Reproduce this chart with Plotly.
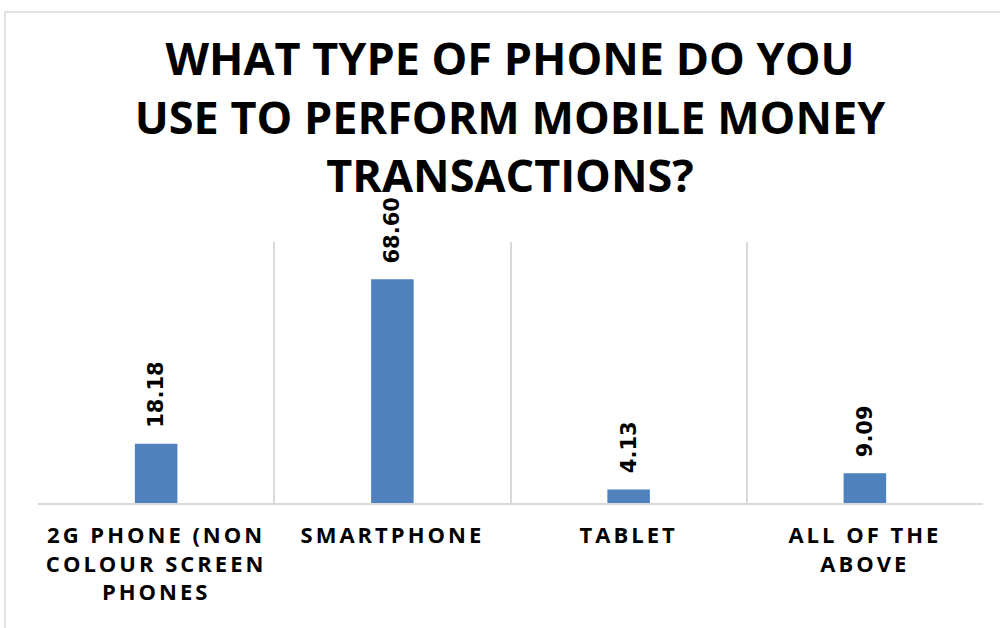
import plotly.graph_objects as go

# Survey results: type of phone used for mobile money transactions (%)
categories = [
    "2G PHONE (NON<br>COLOUR SCREEN<br>PHONES",
    "SMARTPHONE",
    "TABLET",
    "ALL OF THE<br>ABOVE",
]
percentages = [18.18, 68.60, 4.13, 9.09]
value_labels = ["18.18", "68.60", "4.13", "9.09"]

BAR_COLOR = "#4F81BD"
GRID_COLOR = "#D9D9D9"

fig = go.Figure()
fig.add_trace(go.Bar(
    x=categories,
    y=percentages,
    width=0.18,
    marker=dict(color=BAR_COLOR, line=dict(width=0)),
    hoverinfo="x+y",
))

# Rotated value labels above each bar
for cat, val, lab in zip(categories, percentages, value_labels):
    fig.add_annotation(
        x=cat, y=val, xref="x", yref="y",
        text=lab, showarrow=False, textangle=-90,
        xanchor="center", yanchor="bottom", yshift=14,
        font=dict(family="DejaVu Sans", size=21, color="black", weight="bold"),
    )

# Light outer chart border
fig.add_shape(
    type="rect", xref="paper", yref="paper",
    x0=-0.035, x1=1.2, y0=-1.0, y1=1.881,
    line=dict(color=GRID_COLOR, width=1.5), fillcolor="rgba(0,0,0,0)",
    layer="below",
)

fig.update_layout(
    width=1000, height=628,
    margin=dict(l=38, r=17, t=242, b=125),
    paper_bgcolor="white", plot_bgcolor="white",
    showlegend=False,
    title=dict(
        text="WHAT TYPE OF PHONE DO YOU<br>USE TO PERFORM MOBILE MONEY<br>TRANSACTIONS?",
        x=0.51, xanchor="center", xref="container",
        y=0.88, yanchor="top", yref="container",
        font=dict(family="Open Sans", size=45, color="black", weight="bold"),
    ),
    xaxis=dict(
        type="category",
        tickson="boundaries",
        showgrid=True, gridcolor=GRID_COLOR, gridwidth=1.5,
        showline=True, linecolor=GRID_COLOR, linewidth=1.5,
        ticks="", ticklen=0,
        ticklabelstandoff=12,
        tickfont=dict(family="Open Sans", size=22, color="black", weight="bold"),
        tickangle=0,
    ),
    yaxis=dict(
        range=[0, 80],
        showgrid=False, showticklabels=False, zeroline=False, showline=False,
    ),
)

# Letter-spaced category labels
post = """
var gd = document.getElementById('{plot_id}');
function spaceTicks(){
  gd.querySelectorAll('.xtick text').forEach(function(t){ t.setAttribute('letter-spacing','3px'); });
}
spaceTicks();
gd.on('plotly_afterplot', spaceTicks);
"""

fig.write_html("out.html", post_script=post)
